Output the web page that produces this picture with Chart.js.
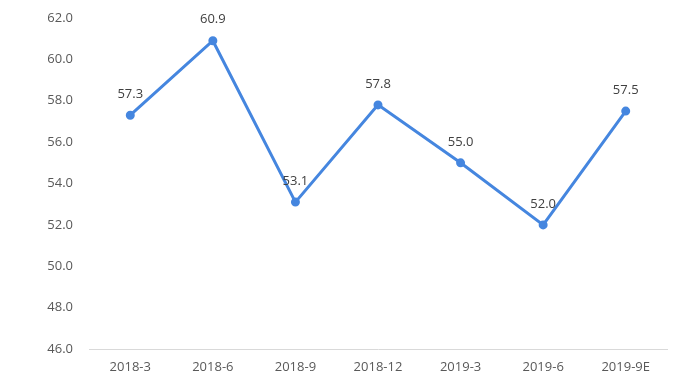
<!DOCTYPE html>
<html>
<head>
<meta charset="utf-8">
<script src="https://cdn.jsdelivr.net/npm/chart.js@4.4.0/dist/chart.umd.min.js"></script>
<style>
  html, body { margin: 0; padding: 0; background: #fff; }
  #wrap { width: 700px; height: 387px; }
</style>
</head>
<body>
<div id="wrap"><canvas id="chLine"></canvas></div>
<script>
// chart data
var categories = ['2018-3', '2018-6', '2018-9', '2018-12', '2019-3', '2019-6', '2019-9E'];
var values = [57.3, 60.9, 53.1, 57.8, 55.0, 52.0, 57.5];
var yTicks = [46, 48, 50, 52, 54, 56, 58, 60, 62];

var lineColor = '#4586DF';
var textColor = '#595959';

// value labels above each point
var valueLabels = {
  id: 'valueLabels',
  afterDatasetsDraw: function (chart) {
    var ctx = chart.ctx;
    var meta = chart.getDatasetMeta(0);
    ctx.save();
    ctx.font = '13px "Open Sans", sans-serif';
    ctx.fillStyle = '#404040';
    ctx.textAlign = 'center';
    ctx.textBaseline = 'middle';
    meta.data.forEach(function (pt, i) {
      ctx.fillText(values[i].toFixed(1), pt.x, pt.y - 21);
    });
    ctx.restore();
  }
};

new Chart(document.getElementById('chLine'), {
  type: 'line',
  data: {
    labels: categories,
    datasets: [{
      data: values,
      borderColor: lineColor,
      backgroundColor: lineColor,
      borderWidth: 3,
      pointRadius: 3,
      pointHoverRadius: 3,
      tension: 0
    }]
  },
  options: {
    responsive: true,
    maintainAspectRatio: false,
    animation: false,
    layout: { padding: { top: 18, right: 33, left: 0, bottom: 0 } },
    plugins: {
      legend: { display: false },
      tooltip: { enabled: false }
    },
    scales: {
      x: {
        offset: true,
        grid: { display: false, drawTicks: false },
        border: { display: true, color: '#D9D9D9', width: 1 },
        ticks: {
          color: textColor,
          font: { family: '"Open Sans", sans-serif', size: 13 },
          padding: 10,
          maxRotation: 0
        },
        afterFit: function (scale) { scale.height = 38; }
      },
      y: {
        min: 46,
        max: 62,
        afterBuildTicks: function (scale) {
          scale.ticks = yTicks.map(function (v) { return { value: v }; });
        },
        grid: { display: false, drawTicks: false },
        border: { display: false },
        ticks: {
          color: textColor,
          font: { family: '"Open Sans", sans-serif', size: 13 },
          padding: 16,
          callback: function (v) { return Number(v).toFixed(1); }
        },
        afterFit: function (scale) {
          scale.width = 89;
          scale.paddingTop = 0;
          scale.paddingBottom = 0;
        }
      }
    }
  },
  plugins: [valueLabels]
});
</script>
</body>
</html>
